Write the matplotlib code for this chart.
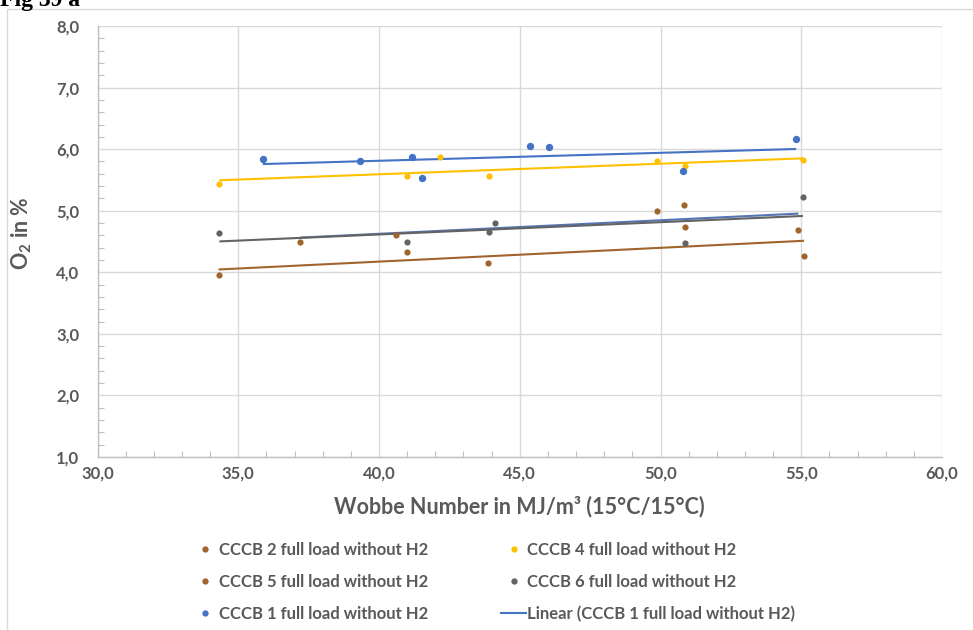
import numpy as np
import matplotlib
matplotlib.use("Agg")
import matplotlib.pyplot as plt
from matplotlib.lines import Line2D
from matplotlib.patches import Rectangle
from matplotlib.ticker import MultipleLocator, FuncFormatter

# Wobbe number (MJ/m³) and O2 content (%) per combustion chamber test bench
cccb1_x = [35.87, 39.32, 41.19, 41.53, 45.35, 46.03, 50.80, 54.82]
cccb1_y = [5.84, 5.81, 5.88, 5.53, 6.05, 6.03, 5.64, 6.16]

cccb2_x = [34.30, 40.98, 43.88, 50.88, 55.10]
cccb2_y = [3.95, 4.33, 4.15, 4.73, 4.27]

cccb4_x = [34.33, 40.98, 42.15, 43.89, 49.87, 50.88, 55.06]
cccb4_y = [5.43, 5.56, 5.87, 5.56, 5.80, 5.73, 5.83]

cccb5_x = [37.20, 40.59, 49.87, 50.85, 54.90]
cccb5_y = [4.50, 4.60, 4.99, 5.09, 4.68]

cccb6_x = [34.33, 40.98, 43.89, 44.13, 50.88, 55.06]
cccb6_y = [4.64, 4.49, 4.65, 4.80, 4.47, 5.22]

labels = {
    "c1": "CCCB 1 full load without H2",
    "c2": "CCCB 2 full load without H2",
    "c4": "CCCB 4 full load without H2",
    "c5": "CCCB 5 full load without H2",
    "c6": "CCCB 6 full load without H2",
    "lin": "Linear (CCCB 1 full load without H2)",
}

BLUE = "#4472C4"
YELLOW = "#FFC000"
BROWN = "#A0642D"
GRAY = "#636363"
BLUEGRAY = "#5574B4"
TXT = "#595959"
GRID = "#D9D9D9"

plt.rcParams["font.family"] = ["Lato", "DejaVu Sans"]
plt.rcParams["mathtext.fontset"] = "custom"
plt.rcParams["mathtext.rm"] = "Lato:bold"
plt.rcParams["mathtext.bf"] = "Lato:bold"

fig = plt.figure(figsize=(9.73, 6.30), dpi=100)
ax = fig.add_axes([97.5 / 973, 1 - 457 / 630, (942 - 97.5) / 973, (457 - 26) / 630])

# outer chart frame
fig.patches.append(Rectangle((7 / 973, -0.1), 1.2, 1 - 9 / 630 + 0.1,
                             transform=fig.transFigure, fill=False,
                             edgecolor="#D9D9D9", linewidth=1.0, zorder=0))

fig.text(0.0, 1 - 6 / 630, "Fig 39 a", family="Liberation Serif",
         fontweight="bold", fontsize=17, va="baseline", ha="left", color="black")


def trend(xs, ys, color, zorder):
    xs = np.asarray(xs)
    ys = np.asarray(ys)
    k, d = np.polyfit(xs, ys, 1)
    xl = np.array([xs.min(), xs.max()])
    ax.plot(xl, k * xl + d, color=color, lw=1.5, zorder=zorder, solid_capstyle="butt")


ax.scatter(cccb2_x, cccb2_y, s=20, color=BROWN, zorder=3, linewidths=0)
ax.scatter(cccb4_x, cccb4_y, s=20, color=YELLOW, zorder=3, linewidths=0)
ax.scatter(cccb5_x, cccb5_y, s=20, color=BROWN, zorder=3, linewidths=0)
ax.scatter(cccb6_x, cccb6_y, s=20, color=GRAY, zorder=3, linewidths=0)
ax.scatter(cccb1_x, cccb1_y, s=28, color=BLUE, zorder=3, linewidths=0)

trend(cccb2_x, cccb2_y, BROWN, 2)
trend(cccb4_x, cccb4_y, YELLOW, 2)
trend(cccb5_x, cccb5_y, BLUEGRAY, 2)
trend(cccb6_x, cccb6_y, GRAY, 2.1)
trend(cccb1_x, cccb1_y, BLUE, 2)

ax.set_xlim(30, 60)
ax.set_ylim(1, 8)
ax.xaxis.set_major_locator(MultipleLocator(5))
ax.xaxis.set_minor_locator(MultipleLocator(1))
ax.yaxis.set_major_locator(MultipleLocator(1))
ax.yaxis.set_minor_locator(MultipleLocator(0.2))
fmt = FuncFormatter(lambda v, p: f"{v:.1f}".replace(".", ","))
ax.xaxis.set_major_formatter(fmt)
ax.yaxis.set_major_formatter(fmt)

ax.grid(True, which="major", color=GRID, lw=1.0, zorder=0)
ax.set_axisbelow(True)
for s in ["top", "right"]:
    ax.spines[s].set_visible(False)
for s in ["left", "bottom"]:
    ax.spines[s].set_color("#BFBFBF")
    ax.spines[s].set_linewidth(1.0)

ax.tick_params(which="major", length=0, labelsize=12, labelcolor=TXT)
ax.tick_params(axis="y", which="major", pad=13)
ax.tick_params(axis="x", which="major", pad=6)
ax.tick_params(which="minor", direction="in", length=4, color="#BFBFBF", width=0.8)
for lab in ax.get_xticklabels() + ax.get_yticklabels():
    lab.set_fontweight("bold")

ax.set_xlabel("Wobbe Number in MJ/m³ (15°C/15°C)", fontsize=15.5, fontweight="bold",
              color=TXT, labelpad=10)
ax.set_ylabel("O$_{2}$ in %", fontsize=15.5, fontweight="bold", color=TXT)
ax.yaxis.set_label_coords(-0.075, 0.52)


def dot(c):
    return Line2D([], [], ls="none", marker="o", ms=3.5, color=c)


handles = [dot(BROWN), dot(BROWN), dot(BLUE),
           dot(YELLOW), dot(GRAY), Line2D([], [], color=BLUE, lw=1.5)]
names = [labels["c2"], labels["c5"], labels["c1"],
         labels["c4"], labels["c6"], labels["lin"]]
leg = fig.legend(handles, names, ncol=2, loc="upper left",
                 bbox_to_anchor=(193 / 973, 1 - 542 / 630), frameon=False,
                 borderpad=0, borderaxespad=0, handlelength=1.45, handletextpad=0.1,
                 columnspacing=4.4, labelspacing=0.95,
                 prop={"family": ["Lato", "DejaVu Sans"], "weight": "bold", "size": 12})
for t in leg.get_texts():
    t.set_color(TXT)

fig.savefig("out.png", dpi=100)
